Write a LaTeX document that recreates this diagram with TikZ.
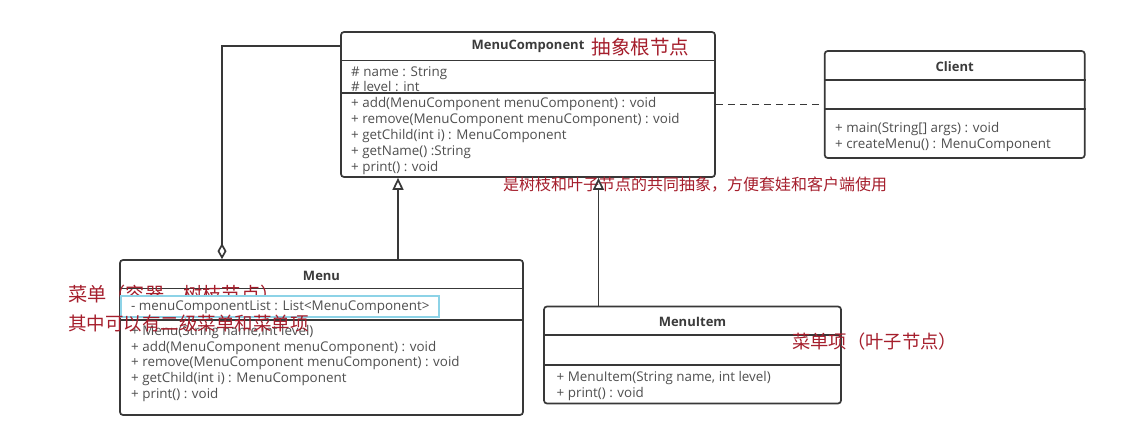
\documentclass[tikz,border=0pt]{standalone}
\usepackage{fontspec}
\setmainfont{Open Sans}
\newfontfamily\cjk{Noto Sans CJK SC}
\usetikzlibrary{positioning,arrows.meta,calc}
\definecolor{umlline}{HTML}{383838}
\definecolor{umltext}{HTML}{4F4F4F}
\definecolor{notered}{HTML}{A51E2C}
\definecolor{hilite}{HTML}{8DD3E7}

\begin{document}
\begin{tikzpicture}[
  x=1pt, y=-1pt,
  cls/.style={draw=umlline, line width=1.7pt, rounded corners=3pt, fill=white},
  sep/.style={draw=umlline, line width=1.4pt},
  head/.style={font=\fontsize{13}{16}\selectfont\bfseries, text=umltext!75!black, inner sep=0pt},
  members/.style={font=\fontsize{13.4}{15.8}\selectfont, text=umltext, align=left, inner sep=0pt, anchor=north west},
  note/.style={font=\cjk\fontsize{18.5}{20}\selectfont, text=notered, inner sep=0pt, anchor=west},
  hibox/.style={draw=hilite, line width=2pt, fill=white, inner sep=0pt},
  inherit/.style={draw=umlline, line width=1.7pt, -{Triangle[open, length=12pt, width=11pt]}},
  aggr/.style={draw=umlline, line width=1.7pt, {Diamond[open, length=16pt, width=9pt]}-},
  dep/.style={draw=umlline, line width=1.7pt, dash pattern=on 7pt off 5pt}
]
  \useasboundingbox (0,0) rectangle (1137,446);

  % class frames
  \node[cls, minimum width=374pt, minimum height=145pt] (comp) at (528,104.5) {};
  \node[cls, minimum width=260pt, minimum height=107pt, right=108pt of comp] (client) {};
  \node[cls, minimum width=403pt, minimum height=155pt] (menu) at (321.5,337.5) {};
  \node[cls, minimum width=297pt, minimum height=97pt] (item) at (692.5,355) {};

  % compartments
  \draw[sep] ([yshift=-29.5pt]comp.north west) -- ([yshift=-29.5pt]comp.north east);
  \draw[sep] ([yshift=-62pt]comp.north west) -- ([yshift=-62pt]comp.north east);
  \draw[sep] ([yshift=-30pt]client.north west) -- ([yshift=-30pt]client.north east);
  \draw[sep] ([yshift=-59pt]client.north west) -- ([yshift=-59pt]client.north east);
  \draw[sep] ([yshift=-29.5pt]menu.north west) -- ([yshift=-29.5pt]menu.north east);
  \draw[sep] ([yshift=-61pt]menu.north west) -- ([yshift=-61pt]menu.north east);
  \draw[sep] ([yshift=-29.5pt]item.north west) -- ([yshift=-29.5pt]item.north east);
  \draw[sep] ([yshift=-59.5pt]item.north west) -- ([yshift=-59.5pt]item.north east);

  % MenuComponent
  \node[head] (comp-t) at ([yshift=-15.5pt]comp.north) {MenuComponent};
  \node[note, font=\cjk\fontsize{19.5}{20}\selectfont, right=7pt of comp-t] (comp-n) {抽象根节点};
  \node[members] (comp-a) at (351,66) {\# name : String\\\# level : int};
  \node[members] (comp-m) at (351,97.5) {+ add(MenuComponent menuComponent) : void\\
    + remove(MenuComponent menuComponent) : void\\
    + getChild(int i) : MenuComponent\\
    + getName() :String\\
    + print() : void};
  \node[note, font=\cjk\fontsize{16}{20}\selectfont] (comp-n2) at (503,185) {是树枝和叶子节点的共同抽象，方便套娃和客户端使用};

  % Client
  \node[head] (client-t) at ([yshift=-16pt]client.north) {Client};
  \node[members] (client-m) at (835,122.5) {+ main(String[] args) : void\\
    + createMenu() : MenuComponent};

  % Menu
  \node[head] (menu-t) at ([yshift=-16.7pt]menu.north) {Menu};
  \node[members] (menu-m) at (131,325) {+ Menu(String name,int level)\\
    + add(MenuComponent menuComponent) : void\\
    + remove(MenuComponent menuComponent) : void\\
    + getChild(int i) : MenuComponent\\
    + print() : void};
  \node[note, font=\cjk\fontsize{19.2}{20}\selectfont] (menu-n1) at (68,294.3) {菜单（容器、树枝节点）};
  \node[hibox, minimum width=318pt, minimum height=21pt] (menu-hl) at (280,306.7) {};
  \node[members, anchor=west] (menu-a) at (131,307.3) {- menuComponentList : List<MenuComponent>};
  \node[note] (menu-n2) at (68,324) {其中可以有二级菜单和菜单项};

  % MenuItem
  \node[head] (item-t) at ([yshift=-16.5pt]item.north) {MenuItem};
  \node[members] (item-m) at (556.5,371.2) {+ MenuItem(String name, int level)\\
    + print() : void};
  \node[note, font=\cjk\fontsize{18.3}{20}\selectfont] (item-n) at (792,341.5) {菜单项（叶子节点）};

  % relations
  \draw[aggr] ([xshift=-99.5pt]menu.north) |- ([yshift=-15pt]comp.north west);
  \draw[inherit] ([xshift=76.5pt]menu.north) -- ([xshift=76.5pt]menu.north |- comp.south);
  \draw[inherit] ([xshift=-94pt]item.north) -- ([xshift=-94pt]item.north |- comp.south);
  \draw[dep] (comp.east) -- (client.west);
\end{tikzpicture}
\end{document}
